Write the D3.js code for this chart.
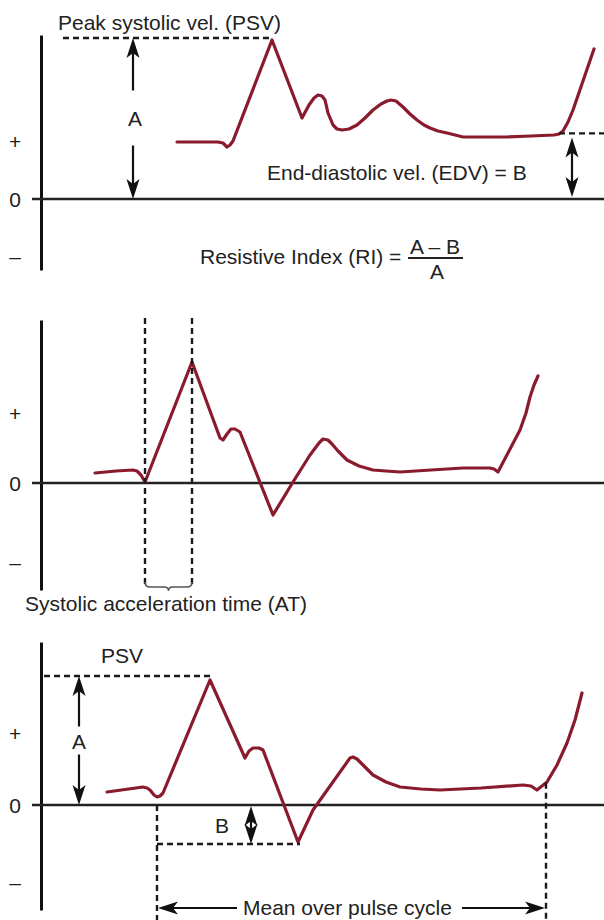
<!DOCTYPE html>
<html>
<head>
<meta charset="utf-8">
<script src="https://d3js.org/d3.v7.min.js"></script>
<style>
  body { margin: 0; background: #fff; }
  svg { display: block; }
  text { font-family: "Liberation Sans", Arial, sans-serif; fill: #222; }
</style>
</head>
<body>
<svg width="604" height="920"></svg>
<script>
// traces: [time from axis, velocity] (velocity in px-like units)
var wave1 = [[136,57],[177,57],[182,56],[186,52],[189,54],[192,58],[231,159],[261,81],[268,94],
  [273,101],[277,104],[281,103],[284,99],[287,86],[292,74],[296,70],[301,69],[308,70],[316,74],
  [324,81],[332,89],[340,95],[346,98],[350,99],[355,98],[362,92],[369,85],[376,79],[383,74],
  [389,71],[397,68],[406,66],[414,64],[422,62],[440,62],[466,62],[490,63],[513,64],[518,65],
  [522,68],[527,77],[532,89],[553,150]];
var wave2 = [[54,10],[75,12],[92,13],[96,12],[100,8],[104,1],[151,121],[179,45],[182,43],
  [186,49],[190,54],[194,54],[199,51],[232,-32],[252,1],[269,28],[278,40],[282,44],[287,43],
  [291,39],[297,32],[306,23],[318,17],[332,13],[345,12],[359,11],[390,13],[422,15],[449,15],
  [453,14],[457,11],[468,32],[479,53],[485,70],[489,86],[493,98],[497,107]];
var wave3 = [[66,13],[102,18],[106,17],[109,15],[113,10],[116,8],[119,9],[122,12],[169,125],
  [204,47],[208,54],[212,57],[218,57],[222,55],[257,-37],[272,-5],[309,47],[312,48],[316,46],
  [322,40],[332,30],[345,23],[359,18],[380,16],[399,15],[440,17],[482,20],[490,19],[496,15],
  [506,23],[516,40],[526,62],[534,85],[541,112]];

var tickLabels = ['+', '0', '\u2013'];
var tickValues1 = [58, 0, -57];
var tickValues2 = [70, 0, -79];
var tickValues3 = [72, 0, -77];

// annotation times
var psvArrowT1 = 92, edvT = 516, edvArrowT = 531;
var psvArrowT3 = 38, bArrowT = 210, cycleEndT = 505;

var svg = d3.select('svg');
var x = d3.scaleLinear().domain([0, 563]).range([41, 604]);

var panels = [
  { wave: wave1, ticks: tickValues1, top: 35, zero: 199, bottom: 270 },
  { wave: wave2, ticks: tickValues2, top: 320, zero: 483, bottom: 590 },
  { wave: wave3, ticks: tickValues3, top: 642, zero: 805, bottom: 910 }
];

var red = '#8a1b2d';

panels.forEach(function(p) {
  p.y = d3.scaleLinear()
    .domain([p.zero - p.bottom, p.zero - p.top])
    .range([p.bottom, p.top]);

  var ax = svg.append('g')
    .attr('transform', 'translate(' + x(0) + ',0)')
    .call(d3.axisLeft(p.y).tickValues(p.ticks)
      .tickFormat(function(d, i) { return tickLabels[i]; })
      .tickSize(0).tickSizeOuter(0));
  ax.select('.domain').attr('stroke', '#111').attr('stroke-width', 3);
  ax.selectAll('text')
    .attr('x', -26).attr('dy', '0.36em').attr('text-anchor', 'middle')
    .attr('font-size', 21).attr('fill', '#222')
    .attr('font-family', '"Liberation Sans", Arial, sans-serif');

  // zero line
  svg.append('line')
    .attr('x1', x(0) - 9).attr('x2', 604)
    .attr('y1', p.y(0)).attr('y2', p.y(0))
    .attr('stroke', '#222').attr('stroke-width', 2.5);

  svg.append('path')
    .datum(p.wave)
    .attr('fill', 'none')
    .attr('stroke', red)
    .attr('stroke-width', 3.2)
    .attr('stroke-linejoin', 'round')
    .attr('stroke-linecap', 'round')
    .attr('d', d3.line()
      .x(function(d) { return x(d[0]); })
      .y(function(d) { return p.y(d[1]); }));
});

function dashed(x1, y1, x2, y2) {
  svg.append('line')
    .attr('x1', x1).attr('y1', y1).attr('x2', x2).attr('y2', y2)
    .attr('stroke', '#1a1a1a').attr('stroke-width', 2.4)
    .attr('stroke-dasharray', '6,4');
}

function head(x2, y2, ang) {
  svg.append('path')
    .attr('d', 'M0,0 L6.5,20 L0,15 L-6.5,20 Z')
    .attr('fill', '#111')
    .attr('transform', 'translate(' + x2 + ',' + y2 + ') rotate(' + ang + ')');
}

// arrow from (x1,y1) with head at (x2,y2)
function arrow(x1, y1, x2, y2) {
  var ang = Math.atan2(y2 - y1, x2 - x1) * 180 / Math.PI + 90;
  var len = Math.hypot(x2 - x1, y2 - y1);
  var ux = (x2 - x1) / len, uy = (y2 - y1) / len;
  svg.append('line')
    .attr('x1', x1).attr('y1', y1)
    .attr('x2', x2 - ux * 12).attr('y2', y2 - uy * 12)
    .attr('stroke', '#111').attr('stroke-width', 2.2);
  head(x2, y2, ang);
}

function dblArrow(x0, y1, y2) {
  svg.append('line')
    .attr('x1', x0).attr('y1', y1 + 12).attr('x2', x0).attr('y2', y2 - 12)
    .attr('stroke', '#111').attr('stroke-width', 2.2);
  head(x0, y1, 0);
  head(x0, y2, 180);
}

function label(t, tx, ty, anchor, size) {
  svg.append('text')
    .attr('x', tx).attr('y', ty)
    .attr('text-anchor', anchor || 'start')
    .attr('font-size', size || 21)
    .text(t);
}

function valueAt(wave, t) {
  var i = d3.bisector(function(d) { return d[0]; }).left(wave, t);
  var a = wave[i - 1], b = wave[i];
  return a[1] + (b[1] - a[1]) * (t - a[0]) / (b[0] - a[0]);
}

// ---- panel 1 ----
var p1 = panels[0];
var pk1 = d3.greatest(wave1, function(d) { return d[1]; });
var psvY1 = p1.y(pk1[1]) - 2;
dashed(63, psvY1, x(pk1[0]) + 1, psvY1);
label('Peak systolic vel. (PSV)', 58, 30);
var aMid1 = (psvY1 + p1.y(0)) / 2;
arrow(x(psvArrowT1), aMid1 - 28, x(psvArrowT1), psvY1);
arrow(x(psvArrowT1), aMid1 + 27, x(psvArrowT1), p1.y(0));
label('A', x(psvArrowT1) + 2, aMid1 + 7, 'middle');

var edvY = p1.y(valueAt(wave1, edvT)) - 1;
dashed(x(edvT) + 2, edvY, 604, edvY);
dblArrow(x(edvArrowT), edvY + 4, p1.y(0) - 2);
label('End-diastolic vel. (EDV) = B', 267, 180);

label('Resistive Index (RI) =', 200, 264);
label('A \u2013 B', 435, 254, 'middle');
svg.append('line')
  .attr('x1', 408).attr('x2', 463).attr('y1', 258).attr('y2', 258)
  .attr('stroke', '#222').attr('stroke-width', 2);
label('A', 437, 279, 'middle');

// ---- panel 2 ----
var p2 = panels[1];
var pk2 = d3.greatest(wave2, function(d) { return d[1]; });
var pre2 = wave2.filter(function(d) { return d[0] < pk2[0]; });
var onset2 = d3.least(pre2, function(d) { return d[1]; });
var xa = x(onset2[0]), xb = x(pk2[0]);
dashed(xa, 318, xa, 584);
dashed(xb, 318, xb, 584);
var mid = (xa + xb) / 2;
svg.append('path')
  .attr('d', 'M' + xa + ',582 Q' + xa + ',587 ' + (xa + 5) + ',587 L' + (mid - 4) + ',587 Q' + mid + ',587 ' + mid + ',591'
    + ' Q' + mid + ',587 ' + (mid + 4) + ',587 L' + (xb - 5) + ',587 Q' + xb + ',587 ' + xb + ',582')
  .attr('fill', 'none').attr('stroke', '#555').attr('stroke-width', 1.5);
label('Systolic acceleration time (AT)', 25, 611);

// ---- panel 3 ----
var p3 = panels[2];
var pk3 = d3.greatest(wave3, function(d) { return d[1]; });
var psvY3 = p3.y(pk3[1]) - 4;
dashed(x(0) + 3, psvY3, x(pk3[0]) + 1, psvY3);
label('PSV', 101, 663);
var aMid3 = (psvY3 + p3.y(0)) / 2;
arrow(x(psvArrowT3), aMid3 - 14, x(psvArrowT3), psvY3);
arrow(x(psvArrowT3), aMid3 + 14, x(psvArrowT3), p3.y(0));
label('A', x(psvArrowT3), aMid3 + 8, 'middle');

var pre3 = wave3.filter(function(d) { return d[0] < pk3[0]; });
var onset3 = d3.least(pre3, function(d) { return d[1]; });
var mn3 = d3.least(wave3, function(d) { return d[1]; });
var bY = p3.y(mn3[1]) + 2;
dashed(x(onset3[0]), p3.y(0), x(onset3[0]), 920);
dashed(x(onset3[0]), bY, x(mn3[0]) + 2, bY);
dblArrow(x(bArrowT), p3.y(0) + 1, bY);
label('B', 222, 833, 'middle');

var endY = p3.y(valueAt(wave3, cycleEndT));
dashed(x(cycleEndT), endY, x(cycleEndT), 920);
arrow(237, 908, x(onset3[0]) + 1, 908);
arrow(462, 908, x(cycleEndT) - 1, 908);
label('Mean over pulse cycle', 243, 915);
</script>
</body>
</html>
